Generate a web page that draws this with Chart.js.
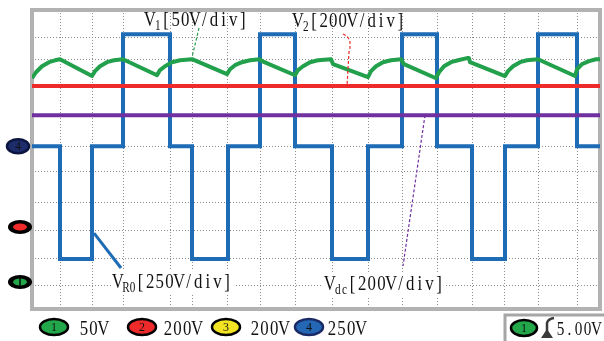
<!DOCTYPE html>
<html>
<head>
<meta charset="utf-8">
<script src="https://cdn.jsdelivr.net/npm/chart.js@4.4.0/dist/chart.umd.min.js"></script>
<style>
  html, body { margin: 0; padding: 0; background: #fff; overflow: hidden; }
  canvas { display: block; }
</style>
</head>
<body>
<canvas id="scope" width="604" height="341"></canvas>
<script>
// Time axis in ms, vertical axis in screen divisions
const T_END = 56.8;
const DIV_MAX = 11.0;

// Gridline positions
const timeGrid = [2.8, 6.0, 9.1, 13.8, 16.0, 19.5, 22.8, 26.3, 30.0, 33.6, 37.0, 40.5, 44.0, 47.3, 50.6, 54.5];
const divGrid = [0.85, 1.84, 2.87, 3.90, 5.07, 5.99, 7.13, 8.20, 9.19, 10.0];

// V_R0: three-level output, switching edges and the level held after each edge
const vr0Edges = [2.8, 6.0, 9.1, 13.8, 16.0, 19.6, 22.8, 26.3, 30.0, 33.6, 37.0, 40.5, 44.0, 47.3, 50.6, 54.5];
const vr0Levels = [5.99, 1.84, 5.99, 10.11, 5.99, 1.84, 5.99, 10.11, 5.99, 1.84, 5.99, 10.11, 5.99, 1.84, 5.99, 10.11, 5.99];

// V1: ripple on channel 1
const v1Time = [0, 0.4, 1.0, 1.7, 2.3, 2.8,
  6.0, 6.3, 6.8, 7.5, 8.2, 9.1,
  12.5, 12.8, 13.3, 14.0, 14.8, 16.0,
  19.5, 19.8, 20.3, 21.0, 21.8, 22.8,
  23.0, 26.3, 26.6, 27.1, 27.8, 28.6, 29.9,
  30.1, 33.6, 33.9, 34.4, 35.1, 35.9, 36.9,
  37.2, 40.4, 40.7, 41.2, 41.9, 42.6, 43.5,
  43.7, 43.8, 47.3, 47.6, 48.1, 48.8, 49.5, 50.6,
  54.3, 54.5, 55.0, 55.7, 56.4, 56.8];
const v1Div = [8.49, 8.71, 8.93, 9.08, 9.15, 9.19,
  8.57, 8.75, 8.93, 9.08, 9.15, 9.19,
  8.60, 8.79, 8.93, 9.08, 9.15, 9.19,
  8.64, 8.82, 8.97, 9.08, 9.15, 9.19,
  9.12, 8.60, 8.79, 8.93, 9.08, 9.15, 9.19,
  9.01, 8.53, 8.75, 8.93, 9.08, 9.15, 9.19,
  9.01, 8.49, 8.71, 8.93, 9.08, 9.15, 9.23,
  9.23, 9.08, 8.57, 8.75, 8.93, 9.08, 9.15, 9.19,
  8.57, 8.82, 9.01, 9.12, 9.19, 9.19];

// V2 and Vdc: flat DC traces
const v2Time = [0, T_END];
const v2Div = [8.20, 8.20];
const vdcTime = [0, T_END];
const vdcDiv = [7.13, 7.13];

// Channel legend
const chanIds = ['1', '2', '3', '4'];
const chanScales = ['50V', '200V', '200V', '250V'];
const chanFill = ['#22a84a', '#ee2a2a', '#f2e422', '#2467b5'];
const chanRim = ['#000000', '#000000', '#000000', '#1a2a66'];
const triggerLevel = '5.00V';

const C_GREEN = '#22a04b', C_RED = '#ee2a2a', C_PURPLE = '#7030a0', C_BLUE = '#1e6bb6';

function pairs(xs, ys) { return xs.map((x, i) => ({ x: x, y: ys[i] })); }
function squareWave(edges, levels) {
  const pts = [{ x: 0, y: levels[0] }];
  edges.forEach((e, i) => { pts.push({ x: e, y: levels[i] }, { x: e, y: levels[i + 1] }); });
  pts.push({ x: T_END, y: levels[levels.length - 1] });
  return pts;
}

// Monospaced-cell serif text: each glyph centred in a fixed-width cell
function mono(ctx, s, x, y, size, cell) {
  ctx.font = size + 'px "Liberation Serif"';
  ctx.textAlign = 'center';
  ctx.textBaseline = 'alphabetic';
  for (let i = 0; i < s.length; i++) {
    ctx.save();
    ctx.translate(x + i * cell + cell / 2, y);
    ctx.scale(0.8, 1);
    ctx.fillText(s[i], 0, 0);
    ctx.restore();
  }
  return s.length * cell;
}
function traceLabel(ctx, x, y, sub, rest, bg) {
  const w = 9.6 + sub.length * 6.6 + rest.length * 9.6;
  if (bg) { ctx.fillStyle = '#fff'; ctx.fillRect(x - 2, y - 17, w + 4, 23); }
  ctx.fillStyle = '#111';
  let cx = x + mono(ctx, 'V', x, y, 21, 9.6);
  cx += mono(ctx, sub, cx, y + 4, 14, 6.6);
  mono(ctx, rest, cx, y, 21, 9.6);
}
function badge(ctx, cx, cy, rx, ry, fill, rim, id) {
  ctx.beginPath();
  ctx.ellipse(cx, cy, rx, ry, 0, 0, Math.PI * 2);
  ctx.fillStyle = fill; ctx.fill();
  ctx.lineWidth = 2.5; ctx.strokeStyle = rim; ctx.stroke();
  ctx.fillStyle = '#111';
  ctx.font = '12px "Liberation Serif"';
  ctx.textAlign = 'center'; ctx.textBaseline = 'middle';
  ctx.fillText(id, cx, cy + 1);
}

const scopeDecor = {
  id: 'scopeDecor',
  beforeDraw(chart) {
    const c = chart.ctx;
    c.save(); c.fillStyle = '#fff'; c.fillRect(0, 0, chart.width, chart.height); c.restore();
  },
  beforeDatasetsDraw(chart) {
    const c = chart.ctx, a = chart.chartArea;
    c.save();
    c.strokeStyle = '#b2b2b2'; c.lineWidth = 4;
    c.strokeRect(a.left, a.top, a.right - a.left, a.bottom - a.top);
    c.restore();
  },
  afterDatasetsDraw(chart) {
    const c = chart.ctx, xs = chart.scales.x, ys = chart.scales.y;
    const X = v => xs.getPixelForValue(v), Y = v => ys.getPixelForValue(v);
    c.save();

    // leader lines
    c.lineWidth = 1.2; c.setLineDash([3, 2]);
    c.strokeStyle = C_GREEN;
    c.beginPath(); c.moveTo(199, 28); c.lineTo(X(16.0), Y(9.19) - 2); c.stroke();
    c.strokeStyle = C_RED;
    c.beginPath(); c.moveTo(343, 34); c.quadraticCurveTo(353, 38, 349, 52); c.lineTo(X(31.5), Y(8.20)); c.stroke();
    c.strokeStyle = C_PURPLE;
    c.beginPath(); c.moveTo(X(39.3), Y(7.13)); c.lineTo(403, 266); c.stroke();
    c.setLineDash([]);
    c.strokeStyle = C_BLUE; c.lineWidth = 3;
    c.beginPath(); c.moveTo(X(6.0) + 2, Y(2.79)); c.lineTo(121, 268); c.stroke();

    // trace labels
    traceLabel(c, 145, 26, '1', '[50V/div]', false);
    traceLabel(c, 293, 27, '2', '[200V/div]', false);
    traceLabel(c, 113, 288, 'R0', '[250V/div]', true);
    traceLabel(c, 325, 290, 'dc', '[200V/div]', true);

    // channel ground markers on the left edge
    badge(c, 18, Y(5.99), 11, 7, '#1d2d6b', '#0c1440', '4');
    c.beginPath(); c.ellipse(20, 227, 12, 7, 0, 0, Math.PI * 2); c.fillStyle = '#000'; c.fill();
    c.beginPath(); c.ellipse(20, 227, 7, 3.5, 0, 0, Math.PI * 2); c.fillStyle = '#ee2a2a'; c.fill();
    c.beginPath(); c.ellipse(20, 282, 12, 7, 0, 0, Math.PI * 2); c.fillStyle = '#000'; c.fill();
    c.beginPath(); c.ellipse(20, 282, 7, 3.5, 0, 0, Math.PI * 2); c.fillStyle = '#22a84a'; c.fill();
    c.fillStyle = '#000'; c.fillRect(19.3, 278, 1.4, 8);

    // channel scale legend
    const badgeX = [54, 142, 226, 309], textX = [79, 163, 250, 327];
    chanIds.forEach((id, i) => {
      badge(c, badgeX[i], 327, 14, 8, chanFill[i], chanRim[i], id);
      c.fillStyle = '#111';
      mono(c, chanScales[i], textX[i], 335, 21, 9.7);
    });

    // trigger box
    c.strokeStyle = '#a6a6a6'; c.lineWidth = 3;
    c.strokeRect(505, 315, 104, 34);
    badge(c, 524, 328, 13, 8, '#22a84a', '#000', '1');
    c.fillStyle = '#3a3a3a';
    c.beginPath(); c.moveTo(541, 338); c.lineTo(553, 338); c.lineTo(547, 329); c.closePath(); c.fill();
    c.strokeStyle = '#3a3a3a'; c.lineWidth = 2.5;
    c.beginPath(); c.moveTo(547, 334); c.lineTo(547, 323); c.quadraticCurveTo(548, 319, 554, 318); c.stroke();
    c.fillStyle = '#111';
    mono(c, triggerLevel, 556, 335, 19, 9.0);
    c.restore();
  }
};

new Chart(document.getElementById('scope'), {
  type: 'line',
  data: {
    datasets: [
      { label: 'V1', data: pairs(v1Time, v1Div), borderColor: C_GREEN, borderWidth: 4, borderJoinStyle: 'round' },
      { label: 'V2', data: pairs(v2Time, v2Div), borderColor: C_RED, borderWidth: 4 },
      { label: 'Vdc', data: pairs(vdcTime, vdcDiv), borderColor: C_PURPLE, borderWidth: 4 },
      { label: 'VR0', data: squareWave(vr0Edges, vr0Levels), borderColor: C_BLUE, borderWidth: 4, borderJoinStyle: 'miter' }
    ]
  },
  options: {
    responsive: false,
    animation: false,
    parsing: false,
    layout: { padding: { left: 32, top: 10, right: 4, bottom: 32 } },
    elements: { point: { radius: 0 }, line: { tension: 0, fill: false } },
    plugins: { legend: { display: false }, tooltip: { enabled: false } },
    scales: {
      x: {
        type: 'linear', min: 0, max: T_END,
        afterBuildTicks: s => { s.ticks = timeGrid.map(v => ({ value: v })); },
        ticks: { display: false },
        grid: { color: '#8c8c8c', lineWidth: 1, drawTicks: false },
        border: { display: false, dash: [1, 2] }
      },
      y: {
        type: 'linear', min: 0, max: DIV_MAX,
        afterBuildTicks: s => { s.ticks = divGrid.map(v => ({ value: v })); },
        ticks: { display: false },
        grid: { color: '#8c8c8c', lineWidth: 1, drawTicks: false },
        border: { display: false, dash: [1, 2] }
      }
    }
  },
  plugins: [scopeDecor]
});
</script>
</body>
</html>
